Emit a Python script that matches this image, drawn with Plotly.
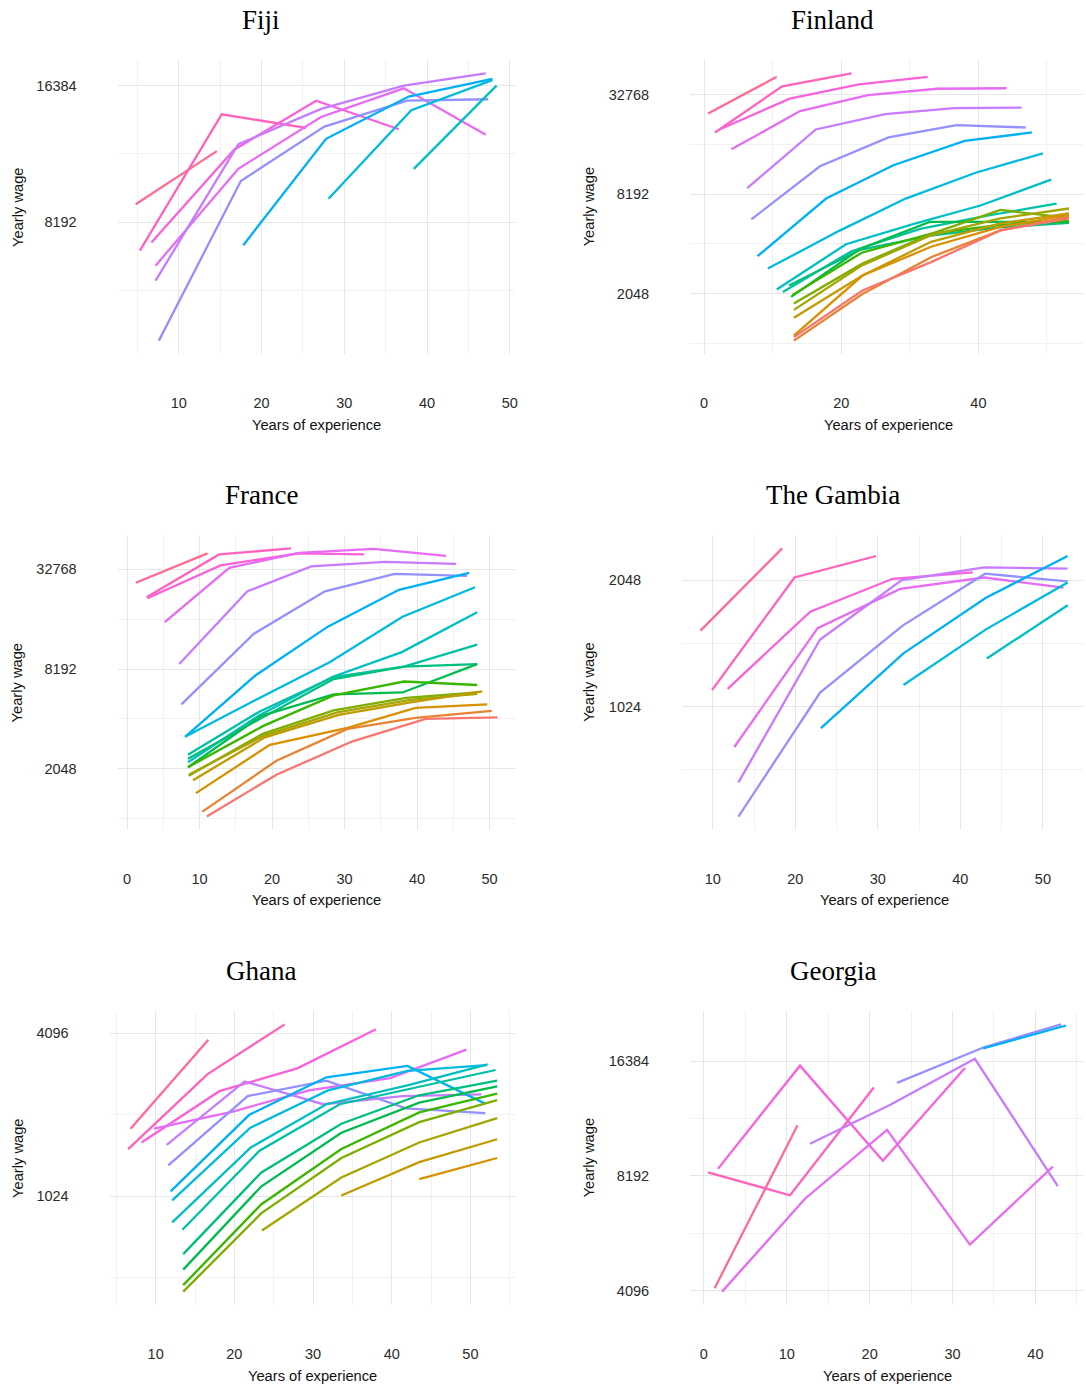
import math
import plotly.graph_objects as go

W, H = 1086, 1389

# ggplot-style hue palette (20 cohorts)
PALETTE = ["#F8766D", "#EA8331", "#D89000", "#C09B00", "#A3A500", "#7CAE00",
           "#39B600", "#00BB4E", "#00BF7D", "#00C1A3", "#00BFC4", "#00BAE0",
           "#00B0F6", "#35A2FF", "#9590FF", "#C77CFF", "#E76BF3", "#FA62DB",
           "#FF62BC", "#FF6C90"]

# ---------------- data (experience in years, wage) ----------------
fiji_cohort = [19, 18, 17, 16, 15, 14, 12, 11, 10]
fiji_exp = [[4.8, 14.6], [5.3, 15.2, 25.4], [6.7, 16.7, 26.6, 36.6],
            [7.2, 17.2, 27.2, 37.2, 47.1], [7.2, 17.2, 27.2, 37.2, 47.1],
            [7.6, 17.5, 27.6, 37.6, 47.4], [17.8, 27.8, 37.8, 47.9],
            [28.1, 38.1, 47.9], [38.4, 48.4]]
fiji_log2_wage = [[13.13, 13.52], [12.79, 13.79, 13.69], [12.85, 13.53, 13.89, 13.68],
                  [12.68, 13.39, 13.77, 13.98, 13.64], [12.57, 13.57, 13.83, 14.00, 14.09],
                  [12.13, 13.30, 13.70, 13.89, 13.90], [12.83, 13.61, 13.92, 14.05],
                  [13.17, 13.82, 14.04], [13.39, 14.00]]

fin_cohort = [19, 18, 17, 16, 15, 14, 12, 11, 10, 9, 8, 7, 6, 5, 4, 3, 2, 1, 0]
fin_exp = [[0.6, 10.6], [1.6, 11.4, 21.5], [2.4, 12.5, 22.6, 32.6],
           [4.0, 14.0, 23.9, 34.0, 44.1], [6.3, 16.3, 26.4, 36.5, 46.3],
           [6.9, 16.9, 26.9, 36.8, 46.9], [7.8, 17.8, 27.6, 38.0, 47.8],
           [9.3, 19.7, 29.4, 39.6, 49.4], [10.6, 20.7, 30.6, 40.3, 50.6],
           [11.5, 21.5, 31.5, 41.5, 51.4], [12.4, 22.6, 32.8, 43.0, 53.2],
           [12.7, 22.8, 32.9, 43.1, 53.2], [12.9, 23.0, 33.0, 43.1, 53.2],
           [13.1, 23.1, 33.1, 43.2, 53.2], [13.1, 23.1, 33.1, 43.2, 53.2],
           [13.1, 23.1, 33.1, 43.2, 53.2], [13.1, 23.1, 33.1, 43.2, 53.2],
           [13.1, 23.1, 33.1, 43.2, 53.2], [13.1, 23.1, 33.1, 43.2, 53.2]]
fin_log2_wage = [[14.62, 15.36], [14.24, 15.17, 15.43], [14.31, 14.92, 15.21, 15.36],
                 [13.90, 14.67, 14.99, 15.12, 15.13], [13.12, 14.30, 14.61, 14.73, 14.74],
                 [12.49, 13.56, 14.14, 14.39, 14.34], [11.75, 12.91, 13.58, 14.07, 14.24],
                 [11.50, 12.26, 12.91, 13.43, 13.82], [11.08, 11.99, 12.40, 12.77, 13.29],
                 [11.03, 11.85, 12.30, 12.57, 12.81], [11.16, 11.87, 12.16, 12.33, 12.42],
                 [10.93, 11.90, 12.44, 12.44, 12.44], [10.97, 11.82, 12.20, 12.38, 12.46],
                 [10.80, 11.60, 12.20, 12.68, 12.52], [10.67, 11.57, 12.17, 12.51, 12.71],
                 [10.51, 11.36, 12.04, 12.41, 12.61], [10.15, 11.36, 11.94, 12.34, 12.58],
                 [10.05, 10.99, 11.73, 12.27, 12.54], [10.12, 11.06, 11.63, 12.27, 12.51]]

fra_cohort = [19, 18, 17, 16, 15, 14, 12, 11, 10, 9, 8, 7, 6, 5, 4, 3, 2, 1, 0]
fra_exp = [[1.2, 11.1], [2.7, 12.7, 22.6], [2.8, 12.9, 23.7, 32.7],
           [5.2, 14.1, 23.7, 34.0, 44.0], [7.2, 16.6, 25.4, 35.6, 45.4],
           [7.5, 17.5, 27.3, 36.9, 46.9], [8.0, 17.7, 27.7, 37.5, 47.2],
           [8.0, 18.0, 28.0, 38.0, 48.0], [8.4, 18.2, 28.3, 37.9, 48.3],
           [8.4, 18.3, 28.5, 38.2, 48.3], [8.4, 18.3, 28.5, 38.2, 48.3],
           [8.4, 18.5, 28.5, 38.0, 48.3], [8.4, 18.8, 28.5, 38.2, 48.3],
           [8.5, 18.7, 28.5, 38.5, 48.3], [8.5, 18.8, 29.0, 39.1, 48.3],
           [9.1, 19.0, 29.2, 39.1, 49.0], [9.5, 19.7, 30.4, 39.8, 49.7],
           [10.4, 20.6, 30.4, 39.8, 50.3], [11.0, 20.6, 31.1, 41.2, 51.1]]
fra_log2_wage = [[14.73, 15.32], [14.44, 15.30, 15.42], [14.42, 15.08, 15.32, 15.30],
                 [13.94, 15.03, 15.33, 15.41, 15.27], [13.10, 14.56, 15.06, 15.15, 15.11],
                 [12.29, 13.71, 14.56, 14.91, 14.87], [11.64, 12.87, 13.85, 14.59, 14.93],
                 [11.64, 12.40, 13.14, 14.05, 14.64], [11.13, 12.07, 12.84, 13.34, 14.14],
                 [11.28, 12.15, 12.84, 13.05, 13.49], [11.20, 12.00, 12.80, 13.05, 13.10],
                 [11.03, 12.06, 12.49, 12.53, 13.10], [11.03, 11.86, 12.47, 12.75, 12.68],
                 [10.86, 11.70, 12.17, 12.42, 12.53], [10.88, 11.66, 12.13, 12.38, 12.50],
                 [10.77, 11.63, 12.08, 12.33, 12.55], [10.51, 11.48, 11.82, 12.22, 12.29],
                 [10.14, 11.16, 11.80, 12.02, 12.16], [10.04, 10.88, 11.55, 12.00, 12.03]]

gmb_cohort = [19, 18, 17, 16, 15, 14, 12, 11, 10]
gmb_exp = [[8.5, 18.4], [9.9, 19.9, 29.8], [11.8, 21.8, 31.8, 41.5],
           [12.6, 22.7, 32.7, 42.9, 52.5], [13.1, 23.0, 32.9, 42.9, 53.0],
           [13.1, 23.0, 33.0, 43.0, 53.0], [23.1, 33.1, 43.1, 53.0],
           [33.1, 43.1, 53.0], [43.2, 53.0]]
gmb_log2_wage = [[10.60, 11.25], [10.13, 11.02, 11.19], [10.14, 10.75, 11.01, 11.06],
                 [9.68, 10.62, 10.93, 11.02, 10.94], [9.40, 10.53, 11.00, 11.10, 11.09],
                 [9.13, 10.11, 10.64, 11.05, 10.99], [9.83, 10.42, 10.86, 11.19],
                 [10.17, 10.61, 10.98], [10.38, 10.80]]

gha_cohort = [19, 18, 17, 16, 15, 14, 12, 11, 10, 9, 8, 7, 6, 5, 4, 3, 2]
gha_exp = [[6.8, 16.7], [6.5, 16.6, 26.4], [8.2, 18.1, 28.0, 38.0],
           [9.8, 19.8, 29.5, 39.8, 49.5], [11.4, 21.3, 31.3, 41.4, 51.4],
           [11.6, 21.7, 31.7, 41.8, 51.9], [11.9, 21.9, 31.7, 42.0, 51.8],
           [12.1, 22.0, 31.9, 42.0, 52.0], [12.1, 22.1, 31.7, 42.0, 52.2],
           [13.4, 23.2, 33.4, 43.3, 53.2], [13.5, 23.4, 33.6, 43.5, 53.4],
           [13.5, 23.4, 33.6, 43.5, 53.4], [13.5, 23.4, 33.6, 43.5, 53.4],
           [13.5, 23.4, 33.6, 43.5, 53.4], [23.5, 33.6, 43.5, 53.4],
           [33.6, 43.5, 53.4], [43.5, 53.4]]
gha_log2_wage = [[10.83, 11.92], [10.58, 11.50, 12.11], [10.66, 11.29, 11.57, 12.05],
                 [10.83, 11.04, 11.30, 11.45, 11.80], [10.63, 11.41, 11.13, 11.23, 11.25],
                 [10.38, 11.23, 11.42, 11.08, 11.02], [10.06, 11.00, 11.46, 11.60, 11.14],
                 [9.95, 10.84, 11.30, 11.54, 11.61], [9.68, 10.60, 11.13, 11.36, 11.62],
                 [9.59, 10.56, 11.13, 11.34, 11.55], [9.29, 10.29, 10.89, 11.24, 11.42],
                 [9.10, 10.12, 10.78, 11.15, 11.35], [8.91, 9.90, 10.58, 11.03, 11.26],
                 [8.83, 9.79, 10.47, 10.91, 11.18], [9.58, 10.23, 10.66, 10.96],
                 [10.01, 10.42, 10.70], [10.21, 10.47]]

geo_cohort = [19, 18, 17, 16, 15, 14, 12]
geo_exp = [[1.3, 11.3], [0.5, 10.4, 20.5], [1.7, 11.6, 21.6, 31.5],
           [2.2, 12.2, 22.1, 32.1, 42.1], [12.8, 22.5, 32.7, 42.7],
           [23.3, 33.8, 43.1], [33.7, 43.7]]
geo_log2_wage = [[12.02, 13.44], [13.03, 12.83, 13.77], [13.06, 13.96, 13.13, 13.94],
                 [11.99, 12.80, 13.40, 12.40, 13.08], [13.28, 13.62, 14.02, 12.91],
                 [13.81, 14.12, 14.32], [14.11, 14.31]]

x_ticks_a = [10, 20, 30, 40, 50]
x_ticks_b = [0, 20, 40]
x_ticks_c = [0, 10, 20, 30, 40, 50]
x_ticks_d = [0, 10, 20, 30, 40]

# ---------------- layout per panel (pixel boxes) ----------------
panels = [
    dict(title="Fiji", coh=fiji_cohort, exp=fiji_exp, lw=fiji_log2_wage,
         box=(118, 516, 60, 354), col=0, row=0, xt=x_ticks_a, xm=[5, 15, 25, 35, 45, 55],
         yt=[8192, 16384]),
    dict(title="Finland", coh=fin_cohort, exp=fin_exp, lw=fin_log2_wage,
         box=(692, 1090, 60, 354), col=1, row=0, xt=x_ticks_b, xm=[-10, 10, 30, 50],
         yt=[2048, 8192, 32768]),
    dict(title="France", coh=fra_cohort, exp=fra_exp, lw=fra_log2_wage,
         box=(118, 517, 535, 830), col=0, row=1, xt=x_ticks_c, xm=[-5, 5, 15, 25, 35, 45, 55],
         yt=[2048, 8192, 32768]),
    dict(title="The Gambia", coh=gmb_cohort, exp=gmb_exp, lw=gmb_log2_wage,
         box=(684, 1089, 535, 830), col=1, row=1, xt=x_ticks_a, xm=[5, 15, 25, 35, 45, 55],
         yt=[1024, 2048]),
    dict(title="Ghana", coh=gha_cohort, exp=gha_exp, lw=gha_log2_wage,
         box=(110, 517, 1011, 1305), col=0, row=2, xt=x_ticks_a, xm=[5, 15, 25, 35, 45, 55],
         yt=[1024, 4096]),
    dict(title="Georgia", coh=geo_cohort, exp=geo_exp, lw=geo_log2_wage,
         box=(692, 1087, 1011, 1305), col=1, row=2, xt=x_ticks_d, xm=[-5, 5, 15, 25, 35, 45],
         yt=[4096, 8192, 16384]),
]

TITLE_X = [262, 835]
TITLE_Y = [20, 495, 971]
XLAB_Y = [425, 900, 1376]
YLAB_X = [18, 591]

GRID = "#E6E6E6"
MINOR = "#F1F1F1"
TICKFONT = dict(family="Liberation Sans, Arial, sans-serif", size=14.5, color="#2b2b2b")
LABFONT = dict(family="Liberation Sans, Arial, sans-serif", size=14.7, color="#111111")
TITLEFONT = dict(family="Liberation Serif, DejaVu Serif, serif", size=27, color="#000000")


def expand(lo, hi, f=0.05):
    d = hi - lo
    return lo - f * d, hi + f * d


fig = go.Figure()
annotations = []
layout = {}
LOG2 = math.log10(2)

for k, p in enumerate(panels, start=1):
    xa = "x" if k == 1 else f"x{k}"
    ya = "y" if k == 1 else f"y{k}"
    for c, xs, ls in zip(p["coh"], p["exp"], p["lw"]):
        fig.add_trace(go.Scatter(
            x=xs, y=[2 ** v for v in ls], mode="lines",
            line=dict(color=PALETTE[c], width=2.3),
            xaxis=xa, yaxis=ya, showlegend=False, hoverinfo="skip"))

    allx = [v for xs in p["exp"] for v in xs]
    ally = [v for ls in p["lw"] for v in ls]
    x0, x1 = expand(min(allx), max(allx))
    l0, l1 = expand(min(ally), max(ally))
    px0, px1, py0, py1 = p["box"]
    xcenter = (px0 + px1) / 2
    if px1 > W:
        x1 = x0 + (x1 - x0) * (W - px0) / (px1 - px0)
        px1 = W

    yt = p["yt"]
    r = yt[1] / yt[0]
    ym = [yt[0] / math.sqrt(r)] + [math.sqrt(a * b) for a, b in zip(yt[:-1], yt[1:])] + [yt[-1] * math.sqrt(r)]

    layout["xaxis" if k == 1 else f"xaxis{k}"] = dict(
        domain=[px0 / W, px1 / W], anchor=ya, range=[x0, x1],
        tickmode="array", tickvals=p["xt"], ticks="", showline=False, zeroline=False,
        showgrid=True, gridcolor=GRID, gridwidth=1.3, tickfont=TICKFONT,
        ticklabelstandoff=38,
        minor=dict(tickmode="array", tickvals=p["xm"], showgrid=True, gridcolor=MINOR,
                   gridwidth=1.1, ticks=""))
    layout["yaxis" if k == 1 else f"yaxis{k}"] = dict(
        domain=[1 - py1 / H, 1 - py0 / H], anchor=xa, type="log",
        range=[l0 * LOG2, l1 * LOG2],
        tickmode="array", tickvals=yt, ticktext=[str(v) for v in yt], ticks="",
        showline=False, zeroline=False, showgrid=True, gridcolor=GRID, gridwidth=1.3,
        tickfont=TICKFONT, ticklabelstandoff=40,
        minor=dict(tickmode="array", tickvals=ym, showgrid=True, gridcolor=MINOR,
                   gridwidth=1.1, ticks=""))

    annotations.append(dict(text=p["title"], x=TITLE_X[p["col"]] / W, y=1 - TITLE_Y[p["row"]] / H,
                            xref="paper", yref="paper", showarrow=False, xanchor="center",
                            yanchor="middle", font=TITLEFONT))
    annotations.append(dict(text="Years of experience", x=xcenter / W, y=1 - XLAB_Y[p["row"]] / H,
                            xref="paper", yref="paper", showarrow=False, xanchor="center",
                            yanchor="middle", font=LABFONT))
    annotations.append(dict(text="Yearly wage", x=YLAB_X[p["col"]] / W,
                            y=1 - (py0 + py1) / 2 / H, xref="paper", yref="paper",
                            showarrow=False, xanchor="center", yanchor="middle",
                            textangle=-90, font=LABFONT))

fig.update_layout(
    width=W, height=H, margin=dict(l=0, r=0, t=0, b=0),
    paper_bgcolor="white", plot_bgcolor="white",
    annotations=annotations, **layout)

fig.write_html("out.html")
